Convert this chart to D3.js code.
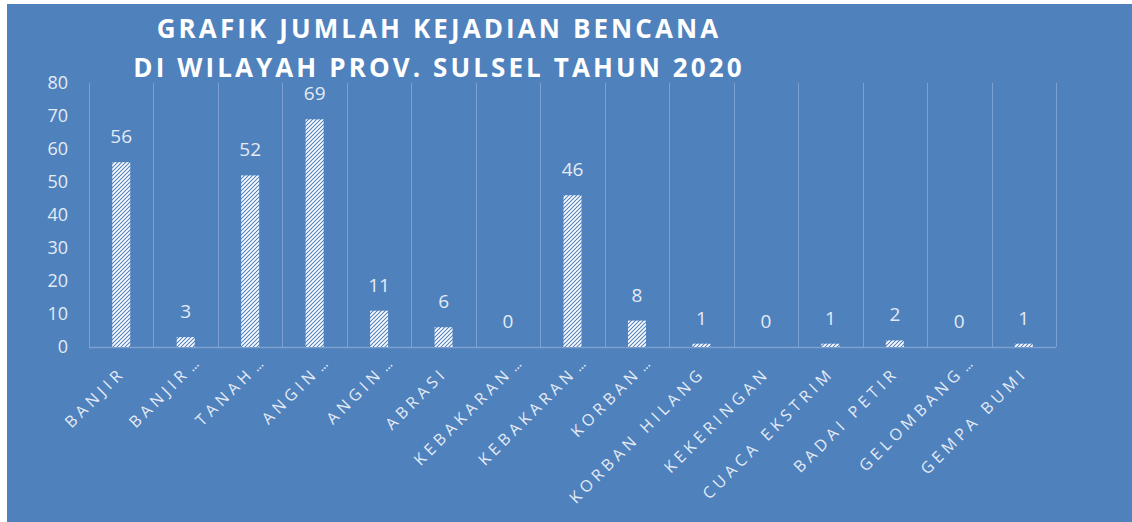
<!DOCTYPE html>
<html>
<head>
<meta charset="utf-8">
<script src="https://cdn.jsdelivr.net/npm/d3@7"></script>
<style>
    body { margin: 0; background: #ffffff; }
    svg { display: block; }
    text { font-family: "Open Sans", "DejaVu Sans", sans-serif; }
</style>
</head>
<body>
<div id="chart"></div>
<script>

// chart data
let categories = ["BANJIR", "BANJIR …", "TANAH …", "ANGIN …", "ANGIN …", "ABRASI",
    "KEBAKARAN …", "KEBAKARAN …", "KORBAN …", "KORBAN HILANG", "KEKERINGAN",
    "CUACA EKSTRIM", "BADAI PETIR", "GELOMBANG …", "GEMPA BUMI"];
let counts = [56, 3, 52, 69, 11, 6, 0, 46, 8, 1, 0, 1, 2, 0, 1];
let yTicks = [0, 10, 20, 30, 40, 50, 60, 70, 80];
let titleLines = ["GRAFIK JUMLAH KEJADIAN BENCANA", "DI WILAYAH PROV. SULSEL TAHUN 2020"];

let width = 1132, height = 522;
let margin = {top: 83, left: 89, right: 76, bottom: 175};
let plotW = width - margin.left - margin.right;
let plotH = height - margin.top - margin.bottom;

let bgColor = "#4f81bd";
let gridColor = "#7ea0d0";
let textColor = "#e4ebf5";

let svg = d3.select("#chart").append("svg")
    .attr("width", width)
    .attr("height", height);

// hatched fill for the bars
let defs = svg.append("defs");
let pat = defs.append("pattern")
    .attr("id", "hatch")
    .attr("patternUnits", "userSpaceOnUse")
    .attr("width", 4)
    .attr("height", 4);
pat.append("rect").attr("width", 4).attr("height", 4).attr("fill", "#ffffff");
pat.append("path")
    .attr("d", "M-1,1 l2,-2 M0,4 l4,-4 M3,5 l2,-2")
    .attr("stroke", bgColor)
    .attr("stroke-width", 1.1);

// chart area background
svg.append("rect")
    .attr("x", 7).attr("y", 4)
    .attr("width", width - 7).attr("height", height - 4)
    .attr("fill", bgColor);

// title
svg.append("g").selectAll("text")
    .data(titleLines)
    .join("text")
    .attr("x", 439)
    .attr("y", function(d, i) { return 38 + i * 39; })
    .attr("text-anchor", "middle")
    .attr("font-size", 26)
    .attr("font-weight", "bold")
    .attr("letter-spacing", 3.1)
    .attr("fill", "#ffffff")
    .text(function(d) { return d; });

let g = svg.append("g")
    .attr("transform", "translate(" + margin.left + "," + margin.top + ")");

// scales
let x = d3.scaleBand()
    .domain(d3.range(categories.length))
    .range([0, plotW])
    .paddingInner(0)
    .paddingOuter(0);

let y = d3.scaleLinear()
    .domain([0, 80])
    .range([plotH, 0]);

// vertical gridlines at category boundaries
let bounds = d3.range(categories.length + 1);
g.append("g").selectAll("line")
    .data(bounds)
    .join("line")
    .attr("x1", function(d) { return Math.round(d * x.step()) + 0.5; })
    .attr("x2", function(d) { return Math.round(d * x.step()) + 0.5; })
    .attr("y1", 0)
    .attr("y2", plotH)
    .attr("stroke", gridColor)
    .attr("stroke-width", 1);

// base line
g.append("line")
    .attr("x1", 0).attr("x2", plotW)
    .attr("y1", y(0) + 0.5).attr("y2", y(0) + 0.5)
    .attr("stroke", gridColor)
    .attr("stroke-width", 1.5);

// y axis
let yAxis = d3.axisLeft(y)
    .tickValues(yTicks)
    .tickSize(0)
    .tickPadding(21);

g.append("g")
    .attr("class", "y-axis")
    .call(yAxis)
    .call(function(s) { s.select(".domain").remove(); })
    .selectAll("text")
    .attr("font-size", 18)
    .attr("fill", textColor)
    .attr("font-family", "'Open Sans', sans-serif");

// bars
let barW = 18;
g.append("g").selectAll("rect")
    .data(counts)
    .join("rect")
    .attr("x", function(d, i) { return x(i) + x.bandwidth() / 2 - barW / 2; })
    .attr("y", function(d) { return y(d); })
    .attr("width", barW)
    .attr("height", function(d) { return y(0) - y(d); })
    .attr("fill", "url(#hatch)");

// value labels
g.append("g").selectAll("text")
    .data(counts)
    .join("text")
    .attr("x", function(d, i) { return x(i) + x.bandwidth() / 2; })
    .attr("y", function(d) { return y(d) - 19; })
    .attr("text-anchor", "middle")
    .attr("font-size", 19)
    .attr("fill", textColor)
    .text(function(d) { return d; });

// x axis: ticks from the band scale, labels drawn rotated
let xAxis = d3.axisBottom(x)
    .tickFormat("")
    .tickSize(0);

let xg = g.append("g")
    .attr("class", "x-axis")
    .attr("transform", "translate(0," + plotH + ")")
    .call(xAxis)
    .call(function(s) { s.select(".domain").remove(); });

// word part ends at the tick, a cut-off "…" runs past it (as Excel does)
xg.selectAll(".tick").each(function(i) {
    let lab = categories[i];
    let cut = lab.endsWith("…");
    let word = cut ? lab.slice(0, -2) : lab;
    let t = d3.select(this).append("g")
        .attr("transform", "translate(5,27) rotate(-45)");
    t.append("text")
        .attr("text-anchor", "end")
        .attr("font-size", 16)
        .attr("font-weight", 500)
        .attr("letter-spacing", 4.4)
        .attr("fill", textColor)
        .text(word);
    if (cut) {
        t.append("text")
            .attr("x", 3)
            .attr("text-anchor", "start")
            .attr("font-size", 12)
            .attr("font-weight", 600)
            .attr("letter-spacing", 0)
            .attr("fill", textColor)
            .text("…");
    }
});

</script>
</body>
</html>
